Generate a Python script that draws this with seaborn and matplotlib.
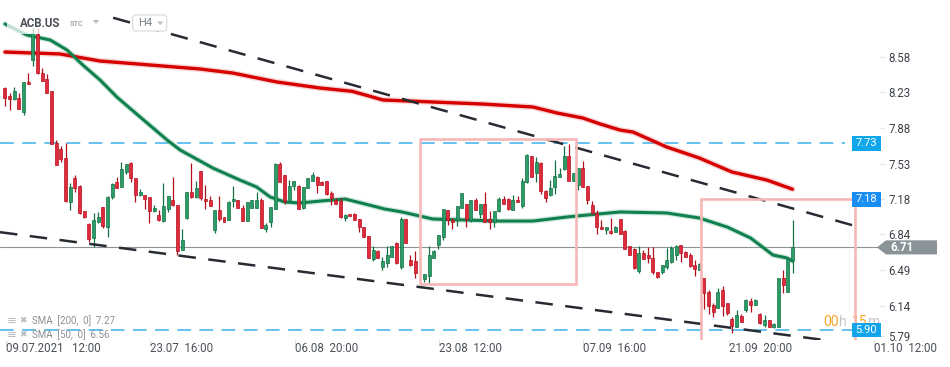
import numpy as np
import pandas as pd
import matplotlib
matplotlib.use("Agg")
import matplotlib.pyplot as plt
import seaborn as sns
from matplotlib.patches import Rectangle, Polygon, FancyBboxPatch
from matplotlib.transforms import blended_transform_factory

sns.set_theme(style="white")
plt.rcParams['font.family'] = ['Roboto', 'DejaVu Sans']

# ---------------- data (H4 candles, ACB.US) ----------------
opens = [8.27, 8.19, 8.16, 8.17, 8.04, 8.33, 8.55, 8.80, 8.42, 8.36,
         8.24, 7.73, 7.67, 7.59, 7.15, 7.39, 7.31, 7.07, 6.94, 6.80,
         6.96, 7.11, 6.91, 7.20, 7.35, 7.30, 7.45, 7.54, 7.39, 7.22,
         7.22, 7.20, 7.07, 7.03, 6.97, 7.09, 7.17, 7.13, 6.68, 7.00,
         7.25, 7.20, 7.46, 7.18, 7.17, 6.88, 7.08, 7.01, 6.98, 7.16,
         7.17, 7.10, 6.97, 7.10, 7.10, 7.17, 6.89, 6.96, 7.09, 7.53,
         7.42, 7.16, 7.31, 7.31, 7.10, 7.29, 7.36, 7.40, 7.35, 7.36,
         7.24, 7.17, 7.16, 7.00, 7.04, 7.04, 6.99, 6.91, 6.82, 6.60,
         6.67, 6.52, 6.56, 6.62, 6.75, 6.52, 6.99, 6.59, 6.58, np.nan,
         6.40, 6.43, 6.61, 6.73, 6.81, 7.08, 6.98, 6.98, 7.10, 7.14,
         6.98, 7.17, 7.04, 7.14, 6.99, 6.96, 7.07, 7.18, 7.18, 7.08,
         7.17, 7.12, 7.35, 7.61, 7.44, 7.54, 7.26, 7.22, 7.30, 7.40,
         7.48, 7.61, 7.36, 7.32, 7.49, 7.31, 7.13, 7.05, 6.91, 6.88,
         6.87, 6.86, 6.99, 6.87, 6.72, 6.69, 6.48, 6.65, 6.64, 6.61,
         6.47, 6.47, 6.52, 6.57, 6.64, 6.73, 6.66, 6.64, 6.54, 6.49,
         6.41, 6.27, 6.15, 6.12, 6.29, 6.16, 6.01, 5.93, 6.04, 6.10,
         6.18, 6.15, 6.06, 5.95, 6.00, 5.93, 5.93, 6.41, 6.27, 6.59]
highs = [8.28, 8.22, 8.28, 8.22, 8.33, 8.42, 8.86, 8.86, 8.47, 8.41,
         8.24, 7.76, 7.70, 7.73, 7.34, 7.42, 7.32, 7.07, 6.95, 7.05,
         7.06, 7.11, 7.21, 7.34, 7.40, 7.55, 7.53, 7.55, 7.39, 7.28,
         7.22, 7.20, 7.13, 7.08, 7.34, 7.21, 7.40, 7.13, 6.89, 7.25,
         7.54, 7.36, 7.46, 7.32, 7.21, 7.08, 7.21, 7.01, 7.16, 7.31,
         7.17, 7.13, 7.15, 7.17, 7.25, 7.19, 6.95, 7.11, 7.54, 7.55,
         7.42, 7.37, 7.36, 7.32, 7.30, 7.39, 7.45, 7.41, 7.36, 7.36,
         7.26, 7.19, 7.19, 7.04, 7.04, 7.05, 6.99, 6.91, 6.82, 6.72,
         6.68, 6.62, 6.72, 6.72, 6.76, 7.01, 6.99, 6.64, 6.67, np.nan,
         6.45, 6.72, 6.68, 6.83, 7.09, 7.08, 7.00, 7.12, 7.24, 7.14,
         7.17, 7.19, 7.14, 7.25, 7.07, 7.07, 7.20, 7.21, 7.19, 7.22,
         7.21, 7.39, 7.63, 7.61, 7.60, 7.55, 7.27, 7.37, 7.57, 7.49,
         7.70, 7.72, 7.44, 7.49, 7.56, 7.31, 7.16, 7.08, 6.98, 6.91,
         7.00, 6.92, 6.99, 6.88, 6.72, 6.70, 6.72, 6.68, 6.71, 6.71,
         6.47, 6.54, 6.70, 6.72, 6.73, 6.73, 6.67, 6.65, 6.59, 6.56,
         6.41, 6.29, 6.16, 6.31, 6.33, 6.16, 6.03, 6.10, 6.06, 6.20,
         6.21, 6.20, 6.07, 6.05, 6.00, 5.97, 6.41, 6.49, 6.61, 6.98]
lows = [8.10, 8.06, 8.15, 8.07, 8.01, 8.31, 8.49, 8.41, 8.34, 8.22,
        7.72, 7.52, 7.55, 7.15, 7.08, 7.25, 7.04, 7.00, 6.76, 6.71,
        6.95, 6.90, 6.81, 7.18, 7.29, 7.30, 7.43, 7.35, 7.15, 7.21,
        7.09, 6.95, 7.06, 6.97, 6.96, 7.06, 7.12, 6.64, 6.68, 6.99,
        7.19, 7.19, 7.17, 7.09, 7.12, 6.85, 6.97, 6.96, 6.98, 7.11,
        7.10, 6.97, 6.97, 7.10, 7.10, 6.90, 6.86, 6.91, 7.09, 7.35,
        7.14, 7.16, 7.27, 7.09, 7.09, 7.29, 7.36, 7.24, 7.32, 7.22,
        7.13, 7.14, 7.00, 6.97, 7.02, 6.98, 6.86, 6.81, 6.61, 6.58,
        6.61, 6.49, 6.52, 6.62, 6.55, 6.50, 6.75, 6.53, 6.41, np.nan,
        6.37, 6.36, 6.61, 6.69, 6.78, 6.93, 6.89, 6.92, 7.10, 6.91,
        6.96, 7.08, 7.00, 6.96, 6.89, 6.91, 7.06, 7.14, 7.08, 7.08,
        7.15, 7.10, 7.34, 7.40, 7.35, 7.23, 7.15, 7.21, 7.23, 7.40,
        7.47, 7.36, 7.36, 7.27, 7.30, 7.14, 7.04, 6.84, 6.89, 6.84,
        6.84, 6.86, 6.84, 6.69, 6.64, 6.50, 6.46, 6.60, 6.56, 6.45,
        6.41, 6.45, 6.50, 6.56, 6.59, 6.57, 6.62, 6.52, 6.43, 6.49,
        6.11, 6.06, 6.03, 6.12, 6.04, 6.05, 5.87, 5.93, 5.98, 6.08,
        6.08, 6.15, 5.96, 5.93, 5.93, 5.92, 5.93, 6.26, 6.27, 6.46]
closes = [8.17, 8.16, 8.24, 8.07, 8.33, 8.31, 8.81, 8.42, 8.34, 8.22,
          7.72, 7.52, 7.58, 7.16, 7.30, 7.29, 7.05, 7.01, 6.79, 6.98,
          7.01, 6.92, 7.20, 7.33, 7.29, 7.48, 7.53, 7.39, 7.22, 7.25,
          7.18, 7.07, 7.10, 6.98, 7.12, 7.21, 7.13, 6.67, 6.78, 7.25,
          7.20, 7.29, 7.19, 7.16, 7.12, 7.08, 6.99, 6.96, 7.15, 7.18,
          7.10, 6.97, 7.15, 7.17, 7.17, 6.90, 6.93, 7.11, 7.53, 7.35,
          7.16, 7.31, 7.36, 7.09, 7.30, 7.39, 7.42, 7.32, 7.32, 7.23,
          7.19, 7.14, 7.01, 7.03, 7.02, 6.98, 6.91, 6.81, 6.61, 6.68,
          6.61, 6.58, 6.64, 6.72, 6.56, 6.99, 6.75, 6.54, 6.46, np.nan,
          6.45, 6.64, 6.67, 6.83, 7.09, 6.98, 6.96, 7.12, 7.24, 6.99,
          7.17, 7.08, 7.14, 6.96, 6.96, 7.07, 7.18, 7.14, 7.09, 7.17,
          7.15, 7.36, 7.62, 7.40, 7.55, 7.26, 7.19, 7.29, 7.41, 7.43,
          7.61, 7.36, 7.44, 7.49, 7.30, 7.17, 7.05, 6.91, 6.89, 6.91,
          6.85, 6.91, 6.84, 6.69, 6.64, 6.51, 6.65, 6.60, 6.61, 6.47,
          6.42, 6.54, 6.59, 6.70, 6.72, 6.65, 6.62, 6.53, 6.50, 6.55,
          6.26, 6.14, 6.08, 6.27, 6.14, 6.07, 5.94, 6.05, 5.98, 6.19,
          6.15, 6.19, 5.97, 6.00, 5.93, 5.96, 6.41, 6.34, 6.60, 6.71]

sma200_bar = [0, 11.8, 20.4, 31.1, 41.8, 48.9, 58.4, 67.6, 74.5, 81.1, 91.8, 102.6,
              113.3, 118.5, 124.0, 127.7, 132.0, 134.8, 142.0, 149.0, 156.0, 163.5, 169.0]
sma200_val = [8.625, 8.606, 8.537, 8.498, 8.459, 8.419, 8.331, 8.272, 8.24, 8.155, 8.135, 8.115,
              8.086, 8.027, 7.978, 7.92, 7.86, 7.84, 7.694, 7.586, 7.449, 7.37, 7.28]
sma50_bar = [0, 4.7, 9.7, 13.3, 16.7, 20.4, 24.0, 29.0, 34.8, 37.6, 44.6, 50.4, 54.0,
             56.9, 60.0, 63.3, 67.6, 73.0, 77.3, 81.5, 85.2, 91.8, 99.1, 106.2, 113.3,
             120.6, 124.9, 132.0, 142.0, 149.0, 155.0, 160.0, 164.8, 167.8, 169.0]
sma50_val = [8.90, 8.792, 8.743, 8.645, 8.498, 8.351, 8.184, 7.988, 7.762, 7.664, 7.488, 7.37, 7.302,
             7.204, 7.155, 7.145, 7.164, 7.184, 7.135, 7.086, 7.057, 6.988, 6.978, 6.968, 6.968,
             7.008, 7.027, 7.057, 7.047, 6.998, 6.909, 6.802, 6.635, 6.606, 6.576]

upper_trend_bar = [23.2, 183.5]
upper_trend_val = [8.961, 6.906]
lower_trend_bar = [-1.07, 175.3]
lower_trend_val = [6.859, 5.805]

resistance_level = 7.73
support_level = 5.90
target_level = 7.18
last_price = 6.71
sma200_last = "7.27"
sma50_last = "6.56"

rect1 = (89.06, 122.5, 6.348, 7.77)   # bar0, bar1, low, high
rect2 = (149.4, 182.5, 5.60, 7.181)

xtick_pos = [0.2, 31.1, 62.2, 93.1, 124.0, 155.4, 186.5]
xtick_labels = ["09.07.2021   12:00", "23.07  16:00", "06.08  20:00", "23.08  12:00",
                "07.09  16:00", "21.09  20:00", "01.10  12:00"]
ytick_pos = [8.58, 8.23, 7.88, 7.53, 7.18, 6.84, 6.49, 6.14, 5.84]
ytick_labels = ["8.58", "8.23", "7.88", "7.53", "7.18", "6.84", "6.49", "6.14", "5.79"]

# ---------------- figure ----------------
W, H = 950, 367
fig = plt.figure(figsize=(W / 100, H / 100), dpi=100)
fig.patch.set_facecolor("white")
ax = fig.add_axes([0, (H - 340) / H, 880 / W, 340 / H])
ax.set_facecolor("white")
ax.set_xlim(-1.07, 187.77)
ax.set_ylim(5.802, 9.135)
sns.despine(ax=ax, left=True, bottom=True, right=True, top=True)

def fx(px):
    return px / W

def fy(py):
    return 1 - py / H

RED, RED_E = "#e02b3c", "#b3101f"
GREEN, GREEN_E = "#2c9d66", "#137045"

# current price line
ax.axhline(last_price, color="#8f9295", lw=0.8, zorder=1)

# horizontal levels
ax.hlines(resistance_level, -1.07, 180.2, colors="#3db0ec", lw=1.1,
          linestyles=(0, (9, 5.5)), zorder=1.5)
ax.hlines(support_level, -1.07, 181.8, colors="#3db0ec", lw=1.1,
          linestyles=(0, (9, 5.5)), zorder=1.5)

# moving averages
sns.lineplot(x=sma200_bar, y=sma200_val, ax=ax, color="#f08a8a", lw=4.4, alpha=0.35,
             legend=False, zorder=2)
sns.lineplot(x=sma200_bar, y=sma200_val, ax=ax, color="#d60000", lw=2.4,
             legend=False, zorder=2.1)
sns.lineplot(x=sma50_bar, y=sma50_val, ax=ax, color="#6fbf97", lw=4.0, alpha=0.35,
             legend=False, zorder=2)
sns.lineplot(x=sma50_bar, y=sma50_val, ax=ax, color="#11804f", lw=2.2,
             legend=False, zorder=2.1)

# candles
df = pd.DataFrame({"bar": np.arange(len(opens)), "open": opens, "high": highs,
                   "low": lows, "close": closes}).dropna()
up = df[df["close"] >= df["open"]]
dn = df[df["close"] < df["open"]]
for sub, fc, ec in [(up, GREEN, GREEN_E), (dn, RED, RED_E)]:
    ax.vlines(sub["bar"], sub["low"], sub["high"], color=ec, lw=0.9, zorder=3)
    hgt = (sub["close"] - sub["open"]).abs().clip(lower=0.012)
    ax.bar(sub["bar"], hgt, bottom=np.minimum(sub["open"], sub["close"]), width=0.64,
           color=fc, edgecolor=ec, linewidth=0.5, zorder=3.1)

# trend lines
for tb, tv in [(upper_trend_bar, upper_trend_val), (lower_trend_bar, lower_trend_val)]:
    sns.lineplot(x=tb, y=tv, ax=ax, color="#272c33", lw=1.8,
                 linestyle=(0, (7.0, 5.0)), legend=False, zorder=4)

# countdown text (behind pink box)
for px, txt, col in [(823, "00", "#f5a524"), (839, "h", "#c4c8cc"),
                     (852, "15", "#f5a524"), (868, "m", "#c4c8cc")]:
    ax.text(fx(px), fy(322), txt, transform=fig.transFigure, fontsize=10, color=col,
            va="center", ha="left", zorder=3.5, clip_on=False)

# pink rectangles
for b0, b1, lo, hi in [rect1, rect2]:
    ax.add_patch(Rectangle((b0, lo), b1 - b0, hi - lo, fill=False, ec="#f6b6b6",
                           lw=1.9, zorder=5))

# right side price boxes
bt = blended_transform_factory(ax.transAxes, ax.transData)
for lvl, col in [(resistance_level, "#0fa6ec"), (target_level, "#1a8ef2"),
                 (support_level, "#12a5ec")]:
    ax.add_patch(Rectangle((852 / 880, lvl - 0.072), 28.5 / 880, 0.144, transform=bt,
                           fc=col, ec="none", zorder=6, clip_on=False))
    ax.text(866.5 / 880, lvl, f"{lvl:.2f}", transform=bt, ha="center", va="center",
            color="white", fontsize=8, zorder=7, clip_on=False)

# last price arrow label
ax.add_patch(Polygon([(877 / 880, last_price), (886 / 880, last_price + 0.069),
                      (937 / 880, last_price + 0.069), (937 / 880, last_price - 0.069),
                      (886 / 880, last_price - 0.069)], closed=True, transform=bt,
                     fc="#8a9498", ec="none", zorder=6, clip_on=False))
ax.text(890 / 880, last_price, f"{last_price:.2f}", transform=bt, ha="left", va="center",
        color="white", fontsize=8.3, fontweight="bold", zorder=7, clip_on=False)

# axis ticks
ax.yaxis.tick_right()
ax.set_yticks(ytick_pos, ytick_labels)
ax.tick_params(axis="y", which="both", right=True, left=False, length=3, width=0.8,
               color="#e2e2e2", pad=3, labelsize=8.3, labelcolor="#3d4249")
ax.set_xticks(xtick_pos, xtick_labels, ha="left")
ax.tick_params(axis="x", which="both", bottom=True, length=4.3, width=0.8,
               color="#dcdcdc", pad=-2.5, labelsize=8.3, labelcolor="#4b5057")
ax.grid(False)

# header overlay + texts
ax.add_patch(Rectangle((fx(7), fy(34)), 103 / W, 34 / H, transform=fig.transFigure,
                       fc="white", ec="none", alpha=0.75, zorder=5.5, clip_on=False))
ax.text(fx(20), fy(23.5), "ACB.US", transform=fig.transFigure, fontsize=8.3,
        fontweight="bold", color="#4b5058", va="center", ha="left", zorder=8)
ax.text(fx(70), fy(24.2), "STC", transform=fig.transFigure, fontsize=5.2,
        fontweight="bold", color="#a2aab2", va="center", ha="left", zorder=8)
ax.add_patch(Polygon([(fx(92.5), fy(20)), (fx(99.5), fy(20)), (fx(96), fy(23.8))],
                     transform=fig.transFigure, fc="#bcc1c6", ec="none", zorder=8,
                     clip_on=False))
ax.add_patch(FancyBboxPatch((fx(132.7), fy(31)), 34 / W, 16 / H,
                            boxstyle="round,pad=0,rounding_size=0.003",
                            mutation_aspect=W / H, transform=fig.transFigure,
                            fc="white", ec="#dadde0", lw=0.9, zorder=7.5, clip_on=False))
ax.text(fx(138), fy(23.3), "H4", transform=fig.transFigure, fontsize=8,
        color="#7b8188", va="center", ha="left", zorder=8)
ax.add_patch(Polygon([(fx(157), fy(21.5)), (fx(163.5), fy(21.5)), (fx(160.2), fy(25))],
                     transform=fig.transFigure, fc="#bcc1c6", ec="none", zorder=8,
                     clip_on=False))

# indicator legend (bottom-left)
for py, txt in [(320.5, f"SMA  [200,  0]  {sma200_last}"), (334.5, f"SMA  [50,  0]  {sma50_last}")]:
    ax.text(fx(6.5), fy(py), "\u2261", transform=fig.transFigure, fontsize=8.5,
            family="DejaVu Sans", color="#b7bcc1", va="center", ha="left", zorder=8)
    ax.text(fx(19.5), fy(py), "\u2716", transform=fig.transFigure, fontsize=6.5,
            family="DejaVu Sans", color="#b7bcc1", va="center", ha="left", zorder=8)
    ax.text(fx(32), fy(py), txt, transform=fig.transFigure, fontsize=7,
            color="#8a9096", va="center", ha="left", zorder=8)

fig.savefig("out.png", dpi=100, facecolor="white")
